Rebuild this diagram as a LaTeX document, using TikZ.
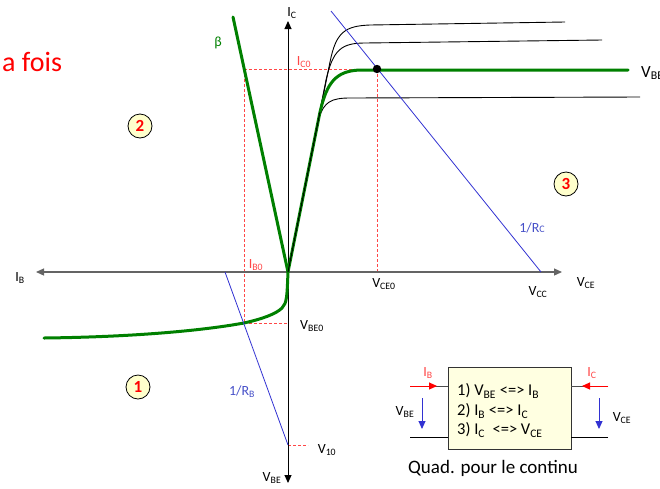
\documentclass[tikz,border=0pt]{standalone}
\usepackage{fontspec}
\setmainfont{Carlito}
\usetikzlibrary{arrows.meta}
\newcommand\sbs[1]{\textsubscript{#1}}
\definecolor{grn}{RGB}{0,128,0}
\definecolor{dred}{RGB}{255,70,70}
\definecolor{lblue}{RGB}{50,50,210}
\definecolor{tblue}{RGB}{70,80,200}
\definecolor{axgray}{RGB}{100,100,100}
\definecolor{cream}{RGB}{255,255,204}
\definecolor{boxcream}{RGB}{255,255,225}
\begin{document}
\begin{tikzpicture}[x=1pt,y=-1pt,
  lbl/.style={inner sep=0pt,font=\fontsize{14}{16}\selectfont},
  boxlbl/.style={inner sep=0pt,font=\fontsize{16.5}{19}\selectfont},
  redlbl/.style={lbl,text=dred},
  bluelbl/.style={lbl,text=tblue},
  dashedred/.style={dred,line width=0.9pt,dash pattern=on 3pt off 2pt},
  thickgreen/.style={grn,line width=3pt,line cap=round},
  charc/.style={black,line width=0.9pt},
  loadline/.style={lblue,line width=0.8pt},
  circnum/.style={circle,draw=black,line width=0.8pt,fill=cream,minimum size=24pt,inner sep=0pt,text=red,font=\fontsize{17}{19}\selectfont\bfseries},
  tip/.style={-{Triangle[length=8pt,width=7pt]}},
  tips/.style={{Triangle[length=8pt,width=7pt]}-{Triangle[length=8pt,width=7pt]}}
]
\useasboundingbox (0,0) rectangle (660,488);

% key coordinates
\coordinate (O) at (288,272);
\coordinate (xl) at (36,272);
\coordinate (xr) at (562,272);
\coordinate (yt) at (288,21);
\coordinate (yb) at (288,483);
\coordinate (Q) at (377,69);
\coordinate (P) at (244,323);
\coordinate (IBtop) at (244,69);
\coordinate (V10) at (288,445);
\coordinate (V10e) at (308,445);
\coordinate (VCE0) at (377,272);
\coordinate (VBE0) at (288,323);
\coordinate (betatop) at (233,17);
\coordinate (rcA) at (331,11);
\coordinate (rcB) at (541,272);
\coordinate (rbA) at (225,272);

% dashed construction lines
\draw[dashedred] (IBtop) -- (Q);
\draw[dashedred] (IBtop) -- (P);
\draw[dashedred] (P) -- (VBE0);
\draw[dashedred] (Q) -- (VCE0);
\draw[dashedred] (V10) -- (V10e);

% axes
\draw[axgray,line width=1.2pt,tips] (xl) -- (xr);
\draw[black,line width=1pt,tips] (yb) -- (yt);

% black output characteristics
\draw[charc] (O) -- (330,62) .. controls (336,32) and (345,26) .. (370,25) -- (565,22);
\draw[charc] (O) -- (326,80) .. controls (333,50) and (341,43) .. (365,43) -- (602,40);
\draw[charc] (O) -- (319,118) .. controls (324,102) and (331,98) .. (350,98) -- (640,97);

% green curves
\draw[thickgreen] (betatop) -- (O);
\draw[thickgreen] (O) -- (320,112) .. controls (327,82) and (336,71) .. (360,70) -- (628,70);
\draw[thickgreen] (44,338) .. controls (130,337) and (200,331) .. (P)
   .. controls (262,319) and (276,314) .. (282,308)
   .. controls (287,303) and (287,296) .. (O);
\draw[charc] (O) -- (320,112);

% load lines
\draw[loadline] (rcA) -- (rcB);
\draw[loadline] (rbA) -- (V10);

% operating point
\fill[black] (Q) circle (4.2pt);

% labels
\node[lbl] (lIC) at (292,13) {I\sbs{C}};
\node[lbl] (lIB) at (20,278) {I\sbs{B}};
\node[lbl] (lVCE) at (586,283) {V\sbs{CE}};
\node[lbl] (lVBE) at (272,478) {V\sbs{BE}};
\node[lbl,text=grn] (lbeta) at (218,43) {β};
\node[redlbl] (lIC0) at (304,62) {I\sbs{C0}};
\node[redlbl] (lIB0) at (256,265) {I\sbs{B0}};
\node[lbl] (lVCE0) at (384,284) {V\sbs{CE0}};
\node[lbl] (lVCC) at (538,292) {V\sbs{CC}};
\node[lbl] (lVBE0) at (312,326) {V\sbs{BE0}};
\node[lbl] (lV10) at (327,450) {V\sbs{10}};
\node[bluelbl] (lRB) at (242,392) {1/R\sbs{B}};
\node[bluelbl] (lRC) at (532,228) {1/R{\fontsize{10}{12}\selectfont C}};
\node[inner sep=0pt,anchor=west,font=\fontsize{17}{19}\selectfont] (lVBEr) at (641,73) {V\sbs{BE}};
\node[inner sep=0pt,anchor=west,text=red,font=\fontsize{28}{32}\selectfont] (afois) at (2,62) {a fois};

% circled numbers
\node[circnum] (n1) at (138,387) {1};
\node[circnum] (n2) at (140,126) {2};
\node[circnum] (n3) at (566,184) {3};

% quadripole box
\node[draw=black!80,line width=0.8pt,fill=boxcream,minimum width=123pt,minimum height=82pt,inner sep=0pt] (box) at (509.5,408) {};
\node[boxlbl,anchor=west] (t1) at (457,391) {1) V\sbs{BE} <=> I\sbs{B}};
\node[boxlbl,anchor=west] (t2) at (457,411) {2) I\sbs{B} <=> I\sbs{C}};
\node[boxlbl,anchor=west] (t3) at (457,430) {3) I\sbs{C}~ <=> V\sbs{CE}};
\coordinate (lt) at (410,386);
\coordinate (lb) at (410,437);
\coordinate (rt) at (608,386);
\coordinate (rb) at (608,437);
\draw[black!70,line width=0.9pt] (lt) -- (lt -| box.west);
\draw[black!70,line width=0.9pt] (rt) -- (rt -| box.east);
\draw[black,line width=0.9pt] (lb) -- (lb -| box.west);
\draw[black,line width=0.9pt] (rb) -- (rb -| box.east);
\coordinate (lta) at (437,386);
\coordinate (rta) at (582,386);
\draw[red,line width=1pt,tip] (lt) -- (lta);
\draw[red,line width=1pt,tip] (rt) -- (rta);
\coordinate (va1) at (422,398);
\coordinate (va2) at (422,429);
\coordinate (vb1) at (599,398);
\coordinate (vb2) at (599,429);
\draw[lblue,line width=0.9pt,tip] (va1) -- (va2);
\draw[lblue,line width=0.9pt,tip] (vb1) -- (vb2);
\node[redlbl] (bIB) at (428,373) {I\sbs{B}};
\node[redlbl] (bIC) at (592,373) {I\sbs{C}};
\node[lbl] (bVBE) at (405,412) {V\sbs{BE}};
\node[lbl] (bVCE) at (622,418) {V\sbs{CE}};
\node[inner sep=0pt,font=\fontsize{19}{22}\selectfont] (quad) at (493,468) {Quad. pour le continu};
\end{tikzpicture}
\end{document}
